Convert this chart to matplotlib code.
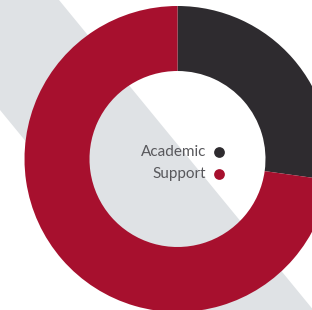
import matplotlib
matplotlib.use("Agg")
import matplotlib.pyplot as plt
from matplotlib.patches import Polygon

# dane
labels = ["Academic", "Support"]
shares = [27.2, 72.8]
colors = ["#2e2b2f", "#a7102e"]

W, H = 312, 310

fig = plt.figure(figsize=(W / 100, H / 100), dpi=100)
ax = fig.add_axes([0, 0, 1, 1])
ax.set_xlim(0, W)
ax.set_ylim(0, H)
ax.axis("off")

### tlo - szary pas po przekatnej
def img(x, y):
    return (x, H - y)

pas = Polygon([img(-5, -5), img(59, -5), img(59, 0), img(420, 440),
               img(420, 622), img(0, 110), img(-5, 104)],
              closed=True, facecolor="#dfe2e5", edgecolor="none", zorder=0)
ax.add_patch(pas)

### donut
cx, cy = 177.5, H - 159
r_out, r_in = 153, 88
ax.pie(shares, colors=colors, startangle=90, counterclock=False,
       center=(cx, cy), radius=r_out,
       wedgeprops=dict(width=r_out - r_in, edgecolor="none", antialiased=True))
ax.set_xlim(0, W)
ax.set_ylim(0, H)
ax.set_aspect("equal")

### legenda w srodku
for i, (lab, col) in enumerate(zip(labels, colors)):
    y = H - (152 + 22 * i)
    ax.text(206, y, lab, ha="right", va="center", fontsize=11,
            family="Lato", color="#58585c")
    ax.scatter([219], [y], s=60, color=col, zorder=5, linewidths=0)

fig.savefig("out.png", dpi=100)
